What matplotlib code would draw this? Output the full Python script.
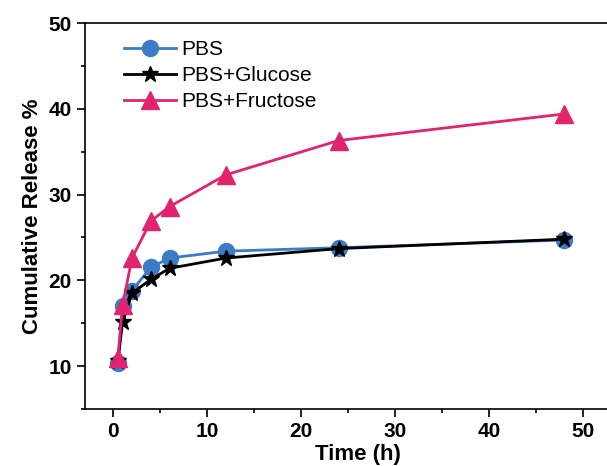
import numpy as np
import matplotlib.pyplot as plt
from matplotlib.ticker import MultipleLocator

plt.rcParams['font.family'] = ['Liberation Sans', 'DejaVu Sans']

# release data
time_h = [0.5, 1, 2, 4, 6, 12, 24, 48]
pbs = [10.4, 17.0, 18.8, 21.5, 22.6, 23.4, 23.8, 24.7]
pbs_glucose = [10.6, 15.1, 18.5, 20.1, 21.4, 22.6, 23.7, 24.8]
pbs_fructose = [11.0, 17.1, 22.6, 26.9, 28.6, 32.3, 36.3, 39.4]

fig = plt.figure(figsize=(6.07, 4.66), dpi=100)
ax = fig.add_axes([85/607, 57/466, 545/607, 386/466])

ax.plot(time_h, pbs, color="#3b7bc8", marker="o", markersize=11.5, lw=2, label="PBS")
ax.plot(time_h, pbs_glucose, color="black", marker="*", markersize=12, lw=2, label="PBS+Glucose")
ax.plot(time_h, pbs_fructose, color="#e2246f", marker="^", markersize=13.5, lw=2, label="PBS+Fructose")

ax.set_xlim(-3.0, 55)
ax.set_ylim(5, 50)
ax.xaxis.set_major_locator(MultipleLocator(10))
ax.xaxis.set_minor_locator(MultipleLocator(5))
ax.yaxis.set_major_locator(MultipleLocator(10))
ax.yaxis.set_minor_locator(MultipleLocator(5))
ax.tick_params(which="both", direction="out", width=1.2, top=False, right=False)
ax.tick_params(which="major", length=6, labelsize=15)
ax.tick_params(which="minor", length=3)
for lab in ax.get_xticklabels() + ax.get_yticklabels():
    lab.set_fontweight("bold")
for s in ax.spines.values():
    s.set_linewidth(1.2)

ax.set_xlabel("Time (h)", fontsize=16, fontweight="bold", labelpad=2)
ax.set_ylabel("Cumulative Release %", fontsize=16, fontweight="bold", labelpad=4)

ax.legend(loc="upper left", frameon=False, fontsize=15, handlelength=2.5,
          bbox_to_anchor=(0.072, 0.955), borderpad=0, borderaxespad=0,
          labelspacing=0.33, handletextpad=0.25)

fig.savefig("out.png", dpi=100)
